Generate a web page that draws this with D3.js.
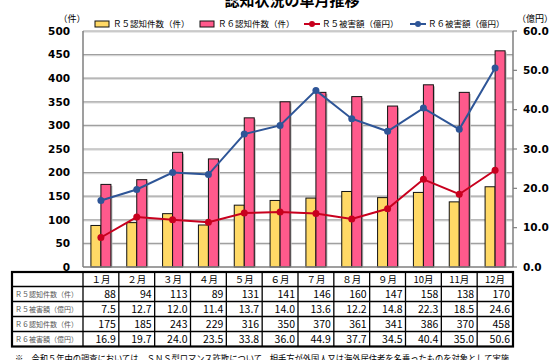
<!DOCTYPE html>
<html>
<head>
<meta charset="utf-8">
<script src="https://cdn.jsdelivr.net/npm/d3@7"></script>
<style>
  html, body { margin: 0; padding: 0; background: #fff; }
  svg { display: block; }
</style>
</head>
<body>
<div id="chart"></div>
<script>
// ── Data ────────────────────────────────────────────────────────────────────
const months   = ['１月', '２月', '３月', '４月', '５月', '６月', '７月', '８月', '９月', '10月', '11月', '12月'];
const r5Count  = [88, 94, 113, 89, 131, 141, 146, 160, 147, 158, 138, 170];
const r5Damage = [7.5, 12.7, 12.0, 11.4, 13.7, 14.0, 13.6, 12.2, 14.8, 22.3, 18.5, 24.6];
const r6Count  = [175, 185, 243, 229, 316, 350, 370, 361, 341, 386, 370, 458];
const r6Damage = [16.9, 19.7, 24.0, 23.5, 33.8, 36.0, 44.9, 37.7, 34.5, 40.4, 35.0, 50.6];

const leftTicks  = [0, 50, 100, 150, 200, 250, 300, 350, 400, 450, 500];
const rightTicks = [0, 10, 20, 30, 40, 50, 60];

const seriesNames = ['Ｒ５認知件数（件）', 'Ｒ６認知件数（件）', 'Ｒ５被害額（億円）', 'Ｒ６被害額（億円）'];
const tableRows = [
  { label: 'Ｒ５認知件数（件）', values: r5Count,  fmt: d3.format('d') },
  { label: 'Ｒ５被害額（億円）', values: r5Damage, fmt: d3.format('.1f') },
  { label: 'Ｒ６認知件数（件）', values: r6Count,  fmt: d3.format('d') },
  { label: 'Ｒ６被害額（億円）', values: r6Damage, fmt: d3.format('.1f') },
];

const title    = '認知状況の単月推移';
const footnote = '※　令和５年中の調査においては、ＳＮＳ型ロマンス詐欺について、相手方が外国人又は海外居住者を名乗ったものを対象として実施';

// ── Theme ───────────────────────────────────────────────────────────────────
const C = {
  yellow: '#FFD966',
  pink:   '#FF5A8C',
  red:    '#C8001E',
  blue:   '#2E5597',
  grid:   '#A0A0A0',
  axis:   '#7F7F7F',
};
const JP  = '"Noto Sans CJK JP", "Noto Sans", sans-serif';
const NUM = '"DejaVu Sans", Verdana, sans-serif';

const W = 556, H = 360;
const plot = { left: 83, right: 513, top: 31, bottom: 267 };

const svg = d3.select('#chart').append('svg')
  .attr('width', W).attr('height', H);

// ── Scales ──────────────────────────────────────────────────────────────────
const x  = d3.scaleBand().domain(months).range([plot.left, plot.right]);
const yL = d3.scaleLinear().domain([0, 500]).range([plot.bottom, plot.top]);
const yR = d3.scaleLinear().domain([0, 60]).range([plot.bottom, plot.top]);
const barW = 10;
const cx = m => x(m) + x.bandwidth() / 2;

// ── Title ───────────────────────────────────────────────────────────────────
svg.append('text')
  .attr('x', 292).attr('y', 5.5)
  .attr('text-anchor', 'middle')
  .attr('font-family', JP).attr('font-weight', 'bold').attr('font-size', 15)
  .text(title);

// ── Grid ────────────────────────────────────────────────────────────────────
const gGrid = svg.append('g');
gGrid.selectAll('line.shadow').data(leftTicks.slice(1)).join('line')
  .attr('class', 'shadow')
  .attr('x1', plot.left).attr('x2', plot.right)
  .attr('y1', d => yL(d) + 1.2).attr('y2', d => yL(d) + 1.2)
  .attr('stroke', '#dcdcdc').attr('stroke-width', 1);
gGrid.selectAll('line.grid').data(leftTicks.slice(1)).join('line')
  .attr('class', 'grid')
  .attr('x1', plot.left).attr('x2', plot.right)
  .attr('y1', d => yL(d)).attr('y2', d => yL(d))
  .attr('stroke', C.grid).attr('stroke-width', 1.2);

// ── Bars ────────────────────────────────────────────────────────────────────
const gBars = svg.append('g');
const barData = months.flatMap((m, i) => [
  { m, v: r5Count[i], off: -barW, fill: C.yellow },
  { m, v: r6Count[i], off: 0,     fill: C.pink },
]);
// soft shadow
gBars.selectAll('rect.sh').data(barData).join('rect')
  .attr('class', 'sh')
  .attr('x', d => cx(d.m) + d.off + 1.5).attr('y', d => yL(d.v) + 1.5)
  .attr('width', barW).attr('height', d => plot.bottom - yL(d.v) - 1.5)
  .attr('fill', '#bbb');
gBars.selectAll('rect.bar').data(barData).join('rect')
  .attr('class', 'bar')
  .attr('x', d => cx(d.m) + d.off).attr('y', d => yL(d.v))
  .attr('width', barW).attr('height', d => plot.bottom - yL(d.v))
  .attr('fill', d => d.fill)
  .attr('stroke', '#111').attr('stroke-width', 1);

// ── Axes ────────────────────────────────────────────────────────────────────
const gAxes = svg.append('g');
gAxes.append('line')
  .attr('x1', plot.left).attr('x2', plot.left).attr('y1', plot.top).attr('y2', plot.bottom)
  .attr('stroke', C.axis).attr('stroke-width', 1.5);
gAxes.append('line')
  .attr('x1', plot.right).attr('x2', plot.right).attr('y1', plot.top).attr('y2', plot.bottom)
  .attr('stroke', C.axis).attr('stroke-width', 1.5);
gAxes.append('line')
  .attr('x1', plot.left).attr('x2', plot.right).attr('y1', plot.bottom).attr('y2', plot.bottom)
  .attr('stroke', C.axis).attr('stroke-width', 1.5);

gAxes.selectAll('line.rtick').data(rightTicks).join('line')
  .attr('class', 'rtick')
  .attr('x1', plot.right).attr('x2', plot.right + 4)
  .attr('y1', d => yR(d)).attr('y2', d => yR(d))
  .attr('stroke', C.axis).attr('stroke-width', 1.2);

gAxes.selectAll('text.lt').data(leftTicks).join('text')
  .attr('class', 'lt')
  .attr('x', 70).attr('y', d => yL(d)).attr('dy', '0.36em')
  .attr('text-anchor', 'end')
  .attr('font-family', NUM).attr('font-weight', 'bold').attr('font-size', 10.5)
  .text(d => d);
gAxes.selectAll('text.rt').data(rightTicks).join('text')
  .attr('class', 'rt')
  .attr('x', 523).attr('y', d => yR(d)).attr('dy', '0.36em')
  .attr('font-family', NUM).attr('font-weight', 'bold').attr('font-size', 10.5)
  .text(d => d3.format('.1f')(d));

gAxes.append('text')
  .attr('x', 72).attr('y', 18.5).attr('dy', '0.36em').attr('text-anchor', 'middle')
  .attr('font-family', JP).attr('font-size', 9).text('（件）');
gAxes.append('text')
  .attr('x', 535).attr('y', 19).attr('dy', '0.36em').attr('text-anchor', 'middle')
  .attr('font-family', JP).attr('font-size', 9).text('（億円）');

// ── Lines ───────────────────────────────────────────────────────────────────
const line = d3.line().x(d => cx(d.m)).y(d => yR(d.v));
[[r5Damage, C.red], [r6Damage, C.blue]].forEach(([vals, col]) => {
  const pts = months.map((m, i) => ({ m, v: vals[i] }));
  svg.append('path').datum(pts)
    .attr('d', line).attr('fill', 'none')
    .attr('stroke', col).attr('stroke-width', 2);
  svg.append('g').selectAll('circle').data(pts).join('circle')
    .attr('cx', d => cx(d.m)).attr('cy', d => yR(d.v)).attr('r', 3.5)
    .attr('fill', col);
});

// ── Legend ──────────────────────────────────────────────────────────────────
const legendY = 24;
const legendItems = [
  { name: seriesNames[0], x: 95,  type: 'bar',  col: C.yellow },
  { name: seriesNames[1], x: 200, type: 'bar',  col: C.pink },
  { name: seriesNames[2], x: 304, type: 'line', col: C.red },
  { name: seriesNames[3], x: 410, type: 'line', col: C.blue },
];
const gLeg = svg.append('g');
legendItems.forEach(it => {
  if (it.type === 'bar') {
    gLeg.append('rect')
      .attr('x', it.x).attr('y', legendY - 3).attr('width', 14).attr('height', 6)
      .attr('fill', it.col).attr('stroke', '#111').attr('stroke-width', 1);
  } else {
    gLeg.append('line')
      .attr('x1', it.x).attr('x2', it.x + 16).attr('y1', legendY).attr('y2', legendY)
      .attr('stroke', it.col).attr('stroke-width', 2);
    gLeg.append('circle')
      .attr('cx', it.x + 8).attr('cy', legendY).attr('r', 3).attr('fill', it.col);
  }
  gLeg.append('text')
    .attr('x', it.x + 18).attr('y', legendY).attr('dy', '0.36em')
    .attr('font-family', JP).attr('font-size', 8.5)
    .text(it.name);
});

// ── Table ───────────────────────────────────────────────────────────────────
const tbl = { left: 12, right: plot.right, top: 272, headH: 14.5, rowH: 15 };
const rowTop = i => tbl.top + tbl.headH + i * tbl.rowH;
const tblBottom = rowTop(tableRows.length);
const gTbl = svg.append('g');

// inner horizontal lines
d3.range(tableRows.length).forEach(i => {
  gTbl.append('line')
    .attr('x1', tbl.left).attr('x2', tbl.right)
    .attr('y1', rowTop(i)).attr('y2', rowTop(i))
    .attr('stroke', '#000').attr('stroke-width', i === 0 ? 1.6 : 1.3);
});
// inner vertical lines
months.forEach(m => {
  gTbl.append('line')
    .attr('x1', x(m)).attr('x2', x(m))
    .attr('y1', tbl.top).attr('y2', tblBottom)
    .attr('stroke', '#000').attr('stroke-width', 1.3);
});
gTbl.append('rect')
  .attr('x', tbl.left).attr('y', tbl.top)
  .attr('width', tbl.right - tbl.left).attr('height', tblBottom - tbl.top)
  .attr('fill', 'none').attr('stroke', '#000').attr('stroke-width', 2.2);

gTbl.selectAll('text.mh').data(months).join('text')
  .attr('class', 'mh')
  .attr('x', d => cx(d)).attr('y', tbl.top + tbl.headH / 2 + 0.5).attr('dy', '0.36em')
  .attr('text-anchor', 'middle')
  .attr('font-family', JP).attr('font-size', 9.5)
  .text(d => d);

tableRows.forEach((row, r) => {
  const yMid = rowTop(r) + tbl.rowH / 2 + 0.5;
  gTbl.append('text')
    .attr('x', tbl.left + 3).attr('y', yMid).attr('dy', '0.36em')
    .attr('font-family', JP).attr('font-size', 7).attr('fill', '#555')
    .text(row.label);
  gTbl.selectAll(null).data(months).join('text')
    .attr('x', d => x(d) + x.bandwidth() - 3).attr('y', yMid).attr('dy', '0.36em')
    .attr('text-anchor', 'end')
    .attr('font-family', JP).attr('font-size', 10.5)
    .text((d, i) => row.fmt(row.values[i]));
});

// ── Footnote ────────────────────────────────────────────────────────────────
svg.append('text')
  .attr('x', 15).attr('y', 362)
  .attr('font-family', JP).attr('font-size', 9)
  .attr('textLength', 494).attr('lengthAdjust', 'spacingAndGlyphs')
  .text(footnote);
</script>
</body>
</html>
